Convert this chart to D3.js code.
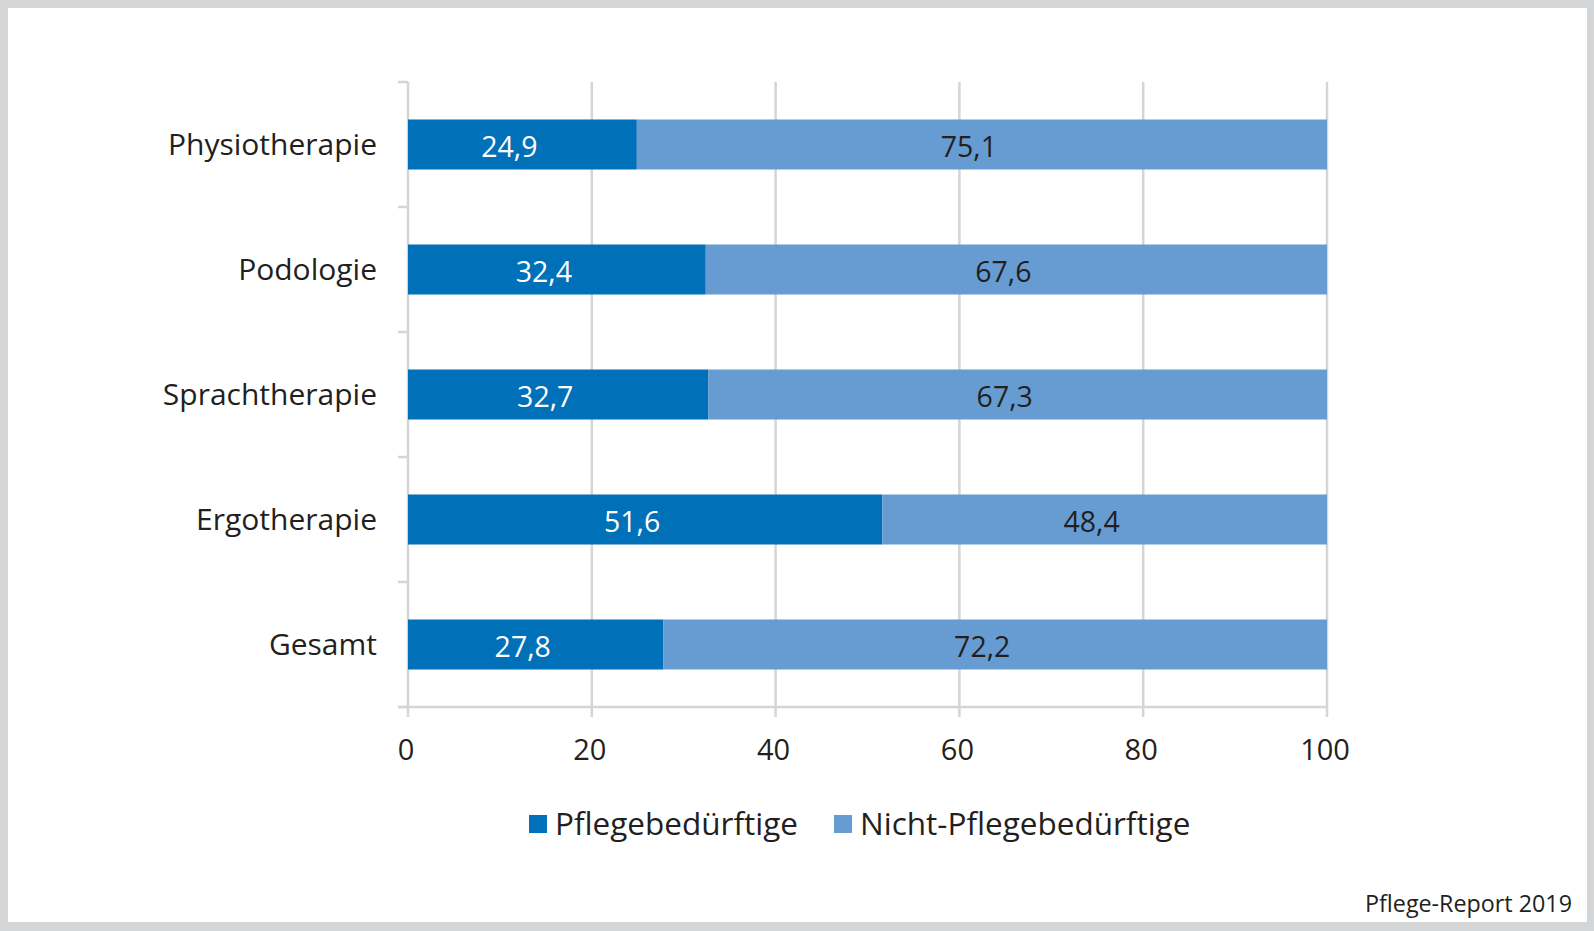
<!DOCTYPE html>
<html><head><meta charset="utf-8">
<script src="https://cdn.jsdelivr.net/npm/d3@7"></script>
<style>html,body{margin:0;padding:0;background:#fff;}svg{display:block;}</style>
</head><body>
<svg id="chart" width="1594" height="931"></svg>
<script>
const categories = ["Physiotherapie", "Podologie", "Sprachtherapie", "Ergotherapie", "Gesamt"];
const pflege = [24.9, 32.4, 32.7, 51.6, 27.8];
const nichtPflege = [75.1, 67.6, 67.3, 48.4, 72.2];
const seriesNames = ["Pflegebedürftige", "Nicht-Pflegebedürftige"];
const seriesColors = ["#0070b9", "#679cd3"];
const xTicks = [0, 20, 40, 60, 80, 100];
const sourceText = "Pflege-Report 2019";

const font = "'Open Sans', sans-serif";
const svg = d3.select("#chart");
svg.append("rect").attr("width", 1594).attr("height", 931).attr("fill", "#d4d5d7");
svg.append("rect").attr("x", 8).attr("y", 8).attr("width", 1579).attr("height", 914).attr("fill", "#ffffff");

const x = d3.scaleLinear().domain([0, 100]).range([408, 1327]);
const y = d3.scaleBand().domain(categories).range([82, 707]).paddingInner(0.6).paddingOuter(0.3);
const yBand = d3.scaleBand().domain(categories).range([82, 707]);

const grid = "#d5d5d5";
// vertical gridlines
svg.append("g").selectAll("line").data(xTicks.slice(1)).join("line")
  .attr("x1", d => x(d)).attr("x2", d => x(d)).attr("y1", 82).attr("y2", 717)
  .attr("stroke", grid).attr("stroke-width", 2.5);
// y axis line
svg.append("line").attr("x1", x(0)).attr("x2", x(0)).attr("y1", 82).attr("y2", 717)
  .attr("stroke", grid).attr("stroke-width", 2.5);
// category ticks
const catTicks = categories.map(c => yBand(c)).concat([707]);
svg.append("g").selectAll("line").data(catTicks).join("line")
  .attr("x1", 398).attr("x2", x(0)).attr("y1", d => d).attr("y2", d => d)
  .attr("stroke", grid).attr("stroke-width", 2.5);
// x axis line
svg.append("line").attr("x1", 398).attr("x2", x(100)).attr("y1", 707).attr("y2", 707)
  .attr("stroke", grid).attr("stroke-width", 2.5);

// bars
const stacks = categories.map((c, i) => ({c, parts: [[0, pflege[i]], [pflege[i], pflege[i] + nichtPflege[i]]], vals: [pflege[i], nichtPflege[i]]}));
const g = svg.append("g");
stacks.forEach(s => {
  s.parts.forEach((p, k) => {
    g.append("rect").attr("x", x(p[0])).attr("width", x(p[1]) - x(p[0]))
      .attr("y", y(s.c)).attr("height", y.bandwidth()).attr("fill", seriesColors[k]);
    g.append("text").attr("x", (x(p[0]) + x(p[1])) / 2 - 13).attr("y", y(s.c) + y.bandwidth() / 2 + 3)
      .attr("dy", "0.35em").attr("text-anchor", "middle")
      .attr("font-family", font).attr("font-size", 28.5)
      .attr("fill", k === 0 ? "#ffffff" : "#231f20")
      .text(d3.format(".1f")(s.vals[k]).replace(".", ","));
  });
});

// category labels
svg.append("g").selectAll("text").data(categories).join("text")
  .attr("x", 377).attr("y", d => y(d) + y.bandwidth() / 2).attr("dy", "0.35em")
  .attr("text-anchor", "end").attr("font-family", font).attr("font-size", 30)
  .attr("fill", "#231f20").text(d => d);

// x tick labels
svg.append("g").selectAll("text").data(xTicks).join("text")
  .attr("x", d => x(d) - 2).attr("y", 760).attr("text-anchor", "middle")
  .attr("font-family", font).attr("font-size", 29).attr("fill", "#231f20").text(d => d);

// legend
const legendItems = [{name: seriesNames[0], color: seriesColors[0], x: 529}, {name: seriesNames[1], color: seriesColors[1], x: 834}];
const lg = svg.append("g");
legendItems.forEach(it => {
  lg.append("rect").attr("x", it.x).attr("y", 815).attr("width", 18).attr("height", 18).attr("fill", it.color);
  lg.append("text").attr("x", it.x + 26).attr("y", 824).attr("dy", "0.35em")
    .attr("font-family", font).attr("font-size", 31.5).attr("fill", "#231f20").text(it.name);
});

// source
svg.append("text").attr("x", 1572).attr("y", 912).attr("text-anchor", "end")
  .attr("font-family", font).attr("font-size", 23.3).attr("fill", "#231f20").text(sourceText);
</script>
</body></html>
